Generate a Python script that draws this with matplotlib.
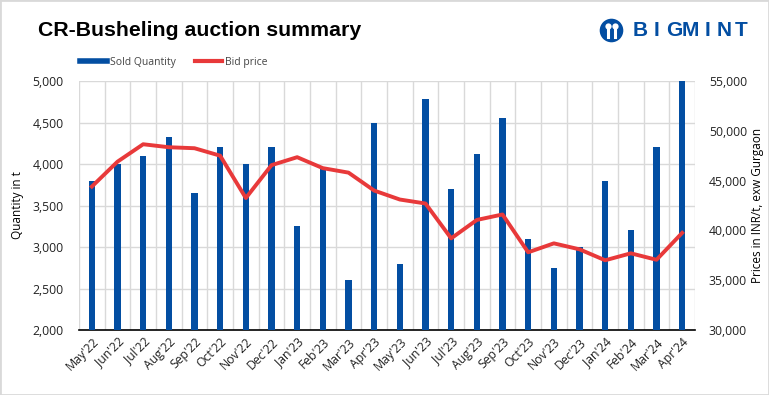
import matplotlib
matplotlib.use("Agg")
import matplotlib.pyplot as plt
from matplotlib.ticker import FuncFormatter, MultipleLocator, FixedLocator
from matplotlib.patches import Rectangle
from matplotlib.lines import Line2D

months = ["May'22", "Jun'22", "Jul'22", "Aug'22", "Sep'22", "Oct'22", "Nov'22", "Dec'22",
          "Jan'23", "Feb'23", "Mar'23", "Apr'23", "May'23", "Jun'23", "Jul'23", "Aug'23",
          "Sep'23", "Oct'23", "Nov'23", "Dec'23", "Jan'24", "Feb'24", "Mar'24", "Apr'24"]
sold_qty = [3800, 4000, 4100, 4320, 3650, 4200, 4000, 4200, 3250, 3950, 2600, 4500,
            2800, 4780, 3700, 4120, 4550, 3100, 2750, 3000, 3800, 3200, 4200, 5000]
bid_price = [44400, 46900, 48650, 48350, 48250, 47500, 43250, 46550, 47350, 46250, 45800, 44000,
             43100, 42700, 39200, 41050, 41600, 37800, 38700, 38100, 37000, 37700, 37050, 39750]

BLUE = "#034EA2"
RED = "#E8393A"
FONT = ["Open Sans", "DejaVu Sans"]

fig = plt.figure(figsize=(7.69, 3.95), dpi=100)
W, H = 769, 395
ax = fig.add_axes([79 / W, 1 - 330 / H, (695 - 79) / W, (330 - 81) / H])
ax2 = ax.twinx()

x = list(range(len(months)))
ax.bar(x, sold_qty, width=0.24, color=BLUE, zorder=3, label="Sold Quantity")
ax2.plot(x, bid_price, color=RED, lw=2.8, zorder=4, label="Bid price")

ax.set_xlim(-0.5, len(months) - 0.5)
ax.set_ylim(2000, 5000)
ax2.set_ylim(30000, 55000)
ax.yaxis.set_major_locator(MultipleLocator(500))
ax2.yaxis.set_major_locator(MultipleLocator(5000))
fmt = FuncFormatter(lambda v, p: f"{int(v):,}")
ax.yaxis.set_major_formatter(fmt)
ax2.yaxis.set_major_formatter(fmt)

ax.set_xticks(x)
ax.set_xticklabels(months, rotation=45, ha="right", rotation_mode="anchor",
                   fontsize=8.8, family=FONT, color="#222222")
ax.tick_params(axis="x", length=0, pad=4)
ax.xaxis.set_minor_locator(FixedLocator([i - 0.5 for i in range(len(months) + 1)]))
ax.tick_params(axis="x", which="minor", length=0)
ax.grid(axis="x", which="minor", color="#D9D9D9", lw=1, zorder=0)
ax.grid(axis="y", which="major", color="#D9D9D9", lw=1, zorder=0)

for a in (ax, ax2):
    for s in ("top", "left", "right", "bottom"):
        a.spines[s].set_visible(False)
    a.tick_params(axis="y", length=0, labelsize=8.8, colors="#222222")
ax.spines["bottom"].set_visible(True)
ax.spines["bottom"].set_color("black")
ax.spines["bottom"].set_linewidth(1.2)
for lab in ax.get_yticklabels() + ax2.get_yticklabels():
    lab.set_family(FONT)
ax.tick_params(axis="y", pad=11)
ax2.tick_params(axis="y", pad=10)

ax.set_ylabel("Quantity in t", fontsize=8.5, family=FONT, labelpad=6)
ax2.set_ylabel("Prices in INR/t, exw Gurgaon", fontsize=8.5, family=FONT, labelpad=3)

fig.text(38 / W, 1 - 31 / H, "CR-Busheling auction summary", fontsize=15.3,
         fontweight="bold", family=["Liberation Sans", "DejaVu Sans"], va="center", ha="left")

# legend
handles = [Line2D([0], [0], color=BLUE, lw=4), Line2D([0], [0], color=RED, lw=3)]
fig.legend(handles, ["Sold Quantity", "Bid price"], loc="center",
           bbox_to_anchor=(174 / W, 1 - 62 / H), ncol=2,
           frameon=False, prop={"family": FONT, "size": 7.5}, handlelength=2.6,
           columnspacing=1.8, handletextpad=0.3, labelcolor="#444444")

# logo
for i, ch in enumerate("BIGMINT"):
    fig.text((640 + i * 16.9) / W, 1 - 31 / H, ch, fontsize=15, fontweight="bold", color=BLUE,
             family=["Liberation Sans", "DejaVu Sans"], va="center", ha="center")
fig.add_artist(Line2D([611 / W], [1 - 30 / H], marker="o", markersize=17, color=BLUE,
                      markeredgewidth=0, transform=fig.transFigure))
for dx in (-3.5, 3.5):
    fig.add_artist(Line2D([(611 + dx) / W], [1 - 26 / H], marker="o", markersize=4.5,
                          color="white", markeredgewidth=0, transform=fig.transFigure))
    fig.add_artist(Line2D([(611 + dx) / W, (611 + dx) / W], [1 - 30 / H, 1 - 37 / H],
                          color="white", lw=2.2, transform=fig.transFigure))

# border
fig.patches.append(Rectangle((0, 0), 1, 1, transform=fig.transFigure, fill=False,
                             edgecolor="#D9D9D9", lw=2))

fig.savefig("out.png", dpi=100)
